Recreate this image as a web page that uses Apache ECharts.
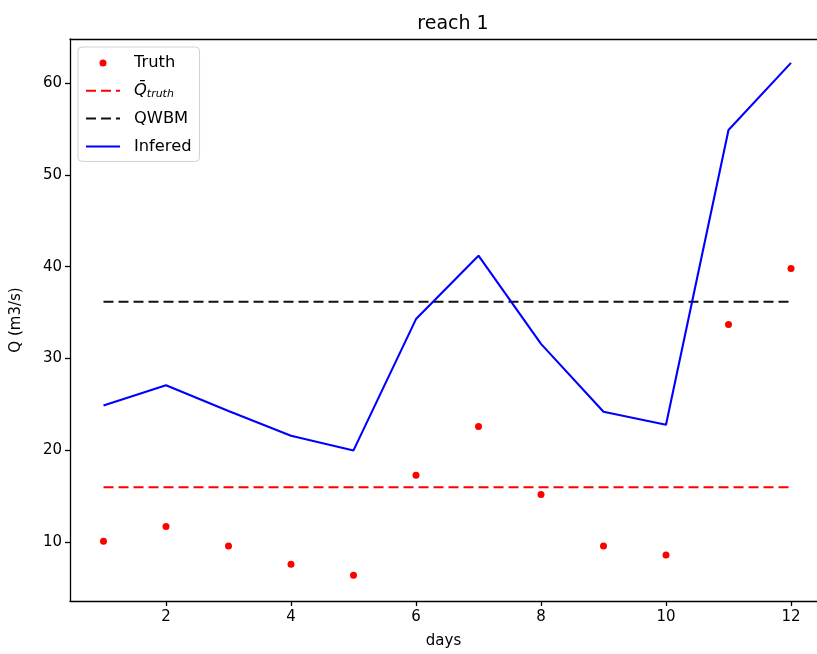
<!DOCTYPE html>
<html>
<head>
<meta charset="utf-8">
<script src="https://cdn.jsdelivr.net/npm/echarts@6/dist/echarts.min.js"></script>
<style>
  html, body { margin: 0; padding: 0; background: #fff; }
  #chart { width: 817px; height: 654px; }
</style>
</head>
<body>
<div id="chart"></div>
<script>
// values
var days = [1, 2, 3, 4, 5, 6, 7, 8, 9, 10, 11, 12]
var truth = [10.1, 11.7, 9.6, 7.6, 6.4, 17.3, 22.6, 15.2, 9.6, 8.6, 33.7, 39.8]
var infered = [24.9, 27.1, 24.3, 21.6, 20.0, 34.3, 41.2, 31.6, 24.2, 22.8, 54.9, 62.2]
var qTruthMean = 16.0
var qwbm = 36.2
var xTicks = [2, 4, 6, 8, 10, 12]
var yTicks = [10, 20, 30, 40, 50, 60]

var font = 'DejaVu Sans'

function pairs(xs, ys) {
  var out = []
  for (var i = 0; i < xs.length; i++) out.push([xs[i], ys[i]])
  return out
}
function flat(v) {
  return [[days[0], v], [days[days.length - 1], v]]
}

// hide the little dot ECharts puts on line-series legend icons
var noDot = { opacity: 0, color: 'transparent', borderColor: 'transparent' }

var option = {
  backgroundColor: '#fff',
  animation: false,
  title: {
    text: 'reach 1',
    left: 448,
    textAlign: 'center',
    top: 10,
    textStyle: { fontFamily: font, fontSize: 19, fontWeight: 'normal', color: '#000' }
  },
  grid: { left: 70, top: 39, right: 0, bottom: 52 },
  legend: {
    orient: 'vertical',
    left: 78,
    top: 47,
    padding: [7, 8, 6, 7],
    backgroundColor: '#fff',
    borderColor: '#d0d0d0',
    borderWidth: 1,
    borderRadius: 4,
    itemWidth: 34,
    itemHeight: 7,
    itemGap: 9.8,
    textStyle: {
      fontFamily: font, fontSize: 16.3, color: '#000', lineHeight: 18, padding: [0, 0, 0, 9],
      rich: {
        q: { fontFamily: font, fontSize: 16.3, fontStyle: 'italic', color: '#000', lineHeight: 18 },
        s: { fontFamily: font, fontSize: 11, fontStyle: 'italic', color: '#000', lineHeight: 18, padding: [6, 0, 0, 0] }
      }
    },
    formatter: function (name) {
      if (name === 'Qtruth') return '{q|Q\u0304}{s|truth}'
      return name
    },
    data: [
      { name: 'Truth', icon: 'circle', itemStyle: { opacity: 1 } },
      { name: 'Qtruth', itemStyle: noDot },
      { name: 'QWBM', itemStyle: noDot },
      { name: 'Infered', itemStyle: noDot }
    ]
  },
  xAxis: [{
    type: 'value',
    min: 0.464,
    max: 12.416,
    name: 'days',
    nameLocation: 'middle',
    nameGap: 33,
    nameTextStyle: { fontFamily: font, fontSize: 15, color: '#000' },
    splitLine: { show: false },
    axisLine: { lineStyle: { color: '#000', width: 1.3 } },
    axisTick: { customValues: xTicks, length: 5, lineStyle: { color: '#000', width: 1.3 } },
    axisLabel: { customValues: xTicks, margin: 9, fontFamily: font, fontSize: 15, color: '#000' }
  }, {
    // top spine of the box
    type: 'value',
    position: 'top',
    min: 0.464,
    max: 12.416,
    splitLine: { show: false },
    axisLine: { show: true, lineStyle: { color: '#000', width: 1.3 } },
    axisTick: { show: false },
    axisLabel: { show: false }
  }],
  yAxis: {
    type: 'value',
    min: 3.6,
    max: 64.8,
    name: 'Q (m3/s)',
    nameLocation: 'middle',
    nameGap: 46,
    nameTextStyle: { fontFamily: font, fontSize: 15, color: '#000' },
    splitLine: { show: false },
    axisLine: { show: true, lineStyle: { color: '#000', width: 1.3 } },
    axisTick: { show: true, customValues: yTicks, length: 5, lineStyle: { color: '#000', width: 1.3 } },
    axisLabel: { customValues: yTicks, margin: 8, fontFamily: font, fontSize: 15, color: '#000' }
  },
  series: [
    {
      name: 'Truth',
      type: 'scatter',
      data: pairs(days, truth),
      symbol: 'circle',
      symbolSize: 7,
      itemStyle: { color: '#ff0000', opacity: 1 },
      z: 5
    },
    {
      name: 'Qtruth',
      type: 'line',
      data: flat(qTruthMean),
      symbol: 'none',
      lineStyle: { color: '#ff0000', width: 2, type: [10, 5] },
      itemStyle: { color: '#ff0000' }
    },
    {
      name: 'QWBM',
      type: 'line',
      data: flat(qwbm),
      symbol: 'none',
      lineStyle: { color: '#111', width: 2, type: [10, 5] },
      itemStyle: { color: '#111' }
    },
    {
      name: 'Infered',
      type: 'line',
      data: pairs(days, infered),
      symbol: 'none',
      lineStyle: { color: '#0000ff', width: 2.1 },
      itemStyle: { color: '#0000ff' }
    }
  ]
}

var myChart = echarts.init(document.getElementById('chart'))
myChart.setOption(option)
</script>
</body>
</html>
